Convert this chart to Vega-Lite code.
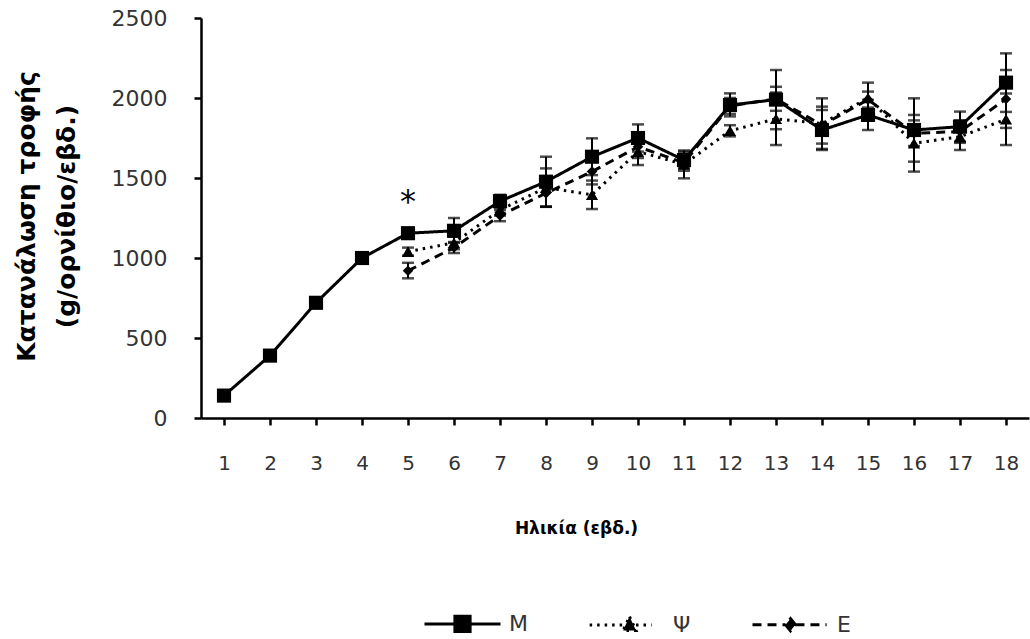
{
  "$schema": "https://vega.github.io/schema/vega-lite/v6.json",
  "autosize": {"type": "none"},
  "padding": {"left": 201, "top": 18, "right": 1, "bottom": 221},
  "width": 828,
  "height": 400,
  "background": "white",
  "config": {
    "view": {"stroke": null},
    "axis": {
      "domainColor": "black", "domainWidth": 2.5,
      "tickColor": "black", "tickWidth": 2.5, "tickSize": 7,
      "labelFont": "DejaVu Sans", "labelFontSize": 20, "labelColor": "#333",
      "titleFont": "DejaVu Sans", "titleFontWeight": "bold", "titleColor": "black",
      "grid": false
    }
  },
  "datasets": {
    "d": [
      {"week": 1, "series": "M", "value": 140},
      {"week": 2, "series": "M", "value": 390},
      {"week": 3, "series": "M", "value": 720},
      {"week": 4, "series": "M", "value": 1000},
      {"week": 5, "series": "M", "value": 1155},
      {"week": 5, "series": "Ψ", "value": 1040, "lo": 1015, "hi": 1065},
      {"week": 5, "series": "E", "value": 920, "lo": 873, "hi": 970},
      {"week": 6, "series": "M", "value": 1170, "lo": 1095, "hi": 1250},
      {"week": 6, "series": "Ψ", "value": 1095, "lo": 1055, "hi": 1135},
      {"week": 6, "series": "E", "value": 1065, "lo": 1031, "hi": 1100},
      {"week": 7, "series": "M", "value": 1355, "lo": 1315, "hi": 1395},
      {"week": 7, "series": "Ψ", "value": 1300, "lo": 1265, "hi": 1335},
      {"week": 7, "series": "E", "value": 1265, "lo": 1230, "hi": 1300},
      {"week": 8, "series": "M", "value": 1477, "lo": 1321, "hi": 1633},
      {"week": 8, "series": "Ψ", "value": 1440, "lo": 1320, "hi": 1560},
      {"week": 8, "series": "E", "value": 1405, "lo": 1320, "hi": 1490},
      {"week": 9, "series": "M", "value": 1633, "lo": 1518, "hi": 1748},
      {"week": 9, "series": "Ψ", "value": 1395, "lo": 1306, "hi": 1484},
      {"week": 9, "series": "E", "value": 1540, "lo": 1460, "hi": 1620},
      {"week": 10, "series": "M", "value": 1750, "lo": 1665, "hi": 1835},
      {"week": 10, "series": "Ψ", "value": 1665, "lo": 1581, "hi": 1749},
      {"week": 10, "series": "E", "value": 1695, "lo": 1625, "hi": 1765},
      {"week": 11, "series": "M", "value": 1612, "lo": 1560, "hi": 1664},
      {"week": 11, "series": "Ψ", "value": 1585, "lo": 1498, "hi": 1672},
      {"week": 11, "series": "E", "value": 1595, "lo": 1545, "hi": 1645},
      {"week": 12, "series": "M", "value": 1956, "lo": 1885, "hi": 2029},
      {"week": 12, "series": "Ψ", "value": 1795, "lo": 1760, "hi": 1830},
      {"week": 12, "series": "E", "value": 1950, "lo": 1900, "hi": 2000},
      {"week": 13, "series": "M", "value": 1990, "lo": 1805, "hi": 2175},
      {"week": 13, "series": "Ψ", "value": 1870, "lo": 1706, "hi": 2034},
      {"week": 13, "series": "E", "value": 1995, "lo": 1920, "hi": 2070},
      {"week": 14, "series": "M", "value": 1800, "lo": 1675, "hi": 1925},
      {"week": 14, "series": "Ψ", "value": 1840, "lo": 1682, "hi": 1998},
      {"week": 14, "series": "E", "value": 1830, "lo": 1715, "hi": 1946},
      {"week": 15, "series": "M", "value": 1894, "lo": 1800, "hi": 1988},
      {"week": 15, "series": "Ψ", "value": 2000, "lo": 1904, "hi": 2096},
      {"week": 15, "series": "E", "value": 1990, "lo": 1940, "hi": 2040},
      {"week": 16, "series": "M", "value": 1800, "lo": 1602, "hi": 1998},
      {"week": 16, "series": "Ψ", "value": 1717, "lo": 1540, "hi": 1894},
      {"week": 16, "series": "E", "value": 1780, "lo": 1700, "hi": 1860},
      {"week": 17, "series": "M", "value": 1821, "lo": 1727, "hi": 1915},
      {"week": 17, "series": "Ψ", "value": 1758, "lo": 1675, "hi": 1841},
      {"week": 17, "series": "E", "value": 1790, "lo": 1720, "hi": 1860},
      {"week": 18, "series": "M", "value": 2096, "lo": 1913, "hi": 2279},
      {"week": 18, "series": "Ψ", "value": 1867, "lo": 1706, "hi": 2028},
      {"week": 18, "series": "E", "value": 1994, "lo": 1813, "hi": 2175}
    ]
  },
  "data": {"name": "d"},
  "encoding": {
    "x": {
      "field": "week", "type": "quantitative",
      "scale": {"domain": [0.5, 18.5], "nice": false, "zero": false},
      "axis": {
        "values": [1,2,3,4,5,6,7,8,9,10,11,12,13,14,15,16,17,18],
        "labelPadding": 28, "labelFlush": false,
        "title": "Ηλικία (εβδ.)", "titleFontSize": 17,
        "titleX": 375, "titleY": 102, "titleAlign": "center", "titleBaseline": "top"
      }
    }
  },
  "layer": [
    {
      "data": {"values": [{}]},
      "mark": {"type": "rule", "color": "black", "strokeWidth": 2.5},
      "encoding": {"y": {"datum": 2500, "type": "quantitative", "scale": {"domain": [0, 2500], "nice": false}}}
    },
    {
      "transform": [{"filter": "isValid(datum.lo)"}],
      "mark": {"type": "rule", "color": "black", "strokeWidth": 2},
      "encoding": {
        "y": {"field": "lo", "type": "quantitative"},
        "y2": {"field": "hi"}
      }
    },
    {
      "transform": [{"filter": "isValid(datum.lo)"}],
      "mark": {"type": "tick", "orient": "horizontal", "size": 12, "thickness": 2.5, "color": "black"},
      "encoding": {"y": {"field": "lo", "type": "quantitative"}}
    },
    {
      "transform": [{"filter": "isValid(datum.hi)"}],
      "mark": {"type": "tick", "orient": "horizontal", "size": 12, "thickness": 2.5, "color": "black"},
      "encoding": {"y": {"field": "hi", "type": "quantitative"}}
    },
    {
      "mark": {"type": "line", "color": "black", "strokeWidth": 3},
      "encoding": {
        "y": {
          "field": "value", "type": "quantitative",
          "scale": {"domain": [0, 2500], "nice": false},
          "axis": {
            "values": [0, 500, 1000, 1500, 2000, 2500],
            "format": "d",
            "labelFontSize": 22,
            "labelPadding": 27,
            "title": ["Κατανάλωση τροφής", "(g/ορνίθιο/εβδ.)"],
            "titleFontSize": 25, "titleLineHeight": 40,
            "titleAngle": -90, "titleX": -187, "titleY": 198,
            "titleAlign": "center", "titleBaseline": "top"
          }
        },
        "strokeDash": {
          "field": "series", "type": "nominal",
          "scale": {"domain": ["M", "Ψ", "E"], "range": [[1, 0], [2.5, 5], [9, 6]]},
          "legend": {
            "title": null, "orient": "none", "legendX": 222, "legendY": 566,
            "direction": "horizontal", "columns": 3, "padding": 0,
            "symbolSize": 5776, "symbolStrokeWidth": 3,
            "symbolStrokeColor": "black", "symbolFillColor": "black",
            "labelFont": "DejaVu Sans", "labelFontSize": 22, "labelColor": "#333",
            "labelOffset": 7, "columnPadding": 55,
            "encode": {"symbols": {"update": {
              "fill": {"value": "black"},
              "stroke": {"value": "black"},
              "strokeWidth": {"value": 3},
              "size": {"value": 5776},
              "shape": {"signal": "datum.value === 'M' ? 'M-1,0H-0.2M-0.2,-0.2H0.2V0.2H-0.2ZM0.2,0H1' : datum.value === 'Ψ' ? 'M-0.97,0H-0.09M0.08,-0.22L0.25,0.15H-0.09ZM0.25,0H0.66' : 'M-1,0H-0.13M0,-0.16L0.13,0L0,0.16L-0.13,0ZM0.13,0H0.95'"}
            }}}
          }
        }
      }
    },
    {
      "transform": [{"filter": "datum.series === 'M'"}],
      "mark": {"type": "point", "shape": "square", "filled": true, "color": "black", "opacity": 1, "size": 200},
      "encoding": {"y": {"field": "value", "type": "quantitative"}}
    },
    {
      "transform": [{"filter": "datum.series === 'Ψ'"}],
      "mark": {"type": "point", "shape": "triangle-up", "filled": true, "color": "black", "opacity": 1, "size": 150},
      "encoding": {"y": {"field": "value", "type": "quantitative"}}
    },
    {
      "transform": [{"filter": "datum.series === 'E'"}],
      "mark": {"type": "point", "shape": "diamond", "filled": true, "color": "black", "opacity": 1, "size": 110},
      "encoding": {"y": {"field": "value", "type": "quantitative"}}
    },
    {
      "data": {"values": [{"week": 5, "value": 1290, "label": "*"}]},
      "mark": {"type": "text", "font": "DejaVu Sans", "fontSize": 32, "color": "black", "baseline": "alphabetic", "align": "center"},
      "encoding": {
        "y": {"field": "value", "type": "quantitative"},
        "text": {"field": "label"}
      }
    }
  ]
}
